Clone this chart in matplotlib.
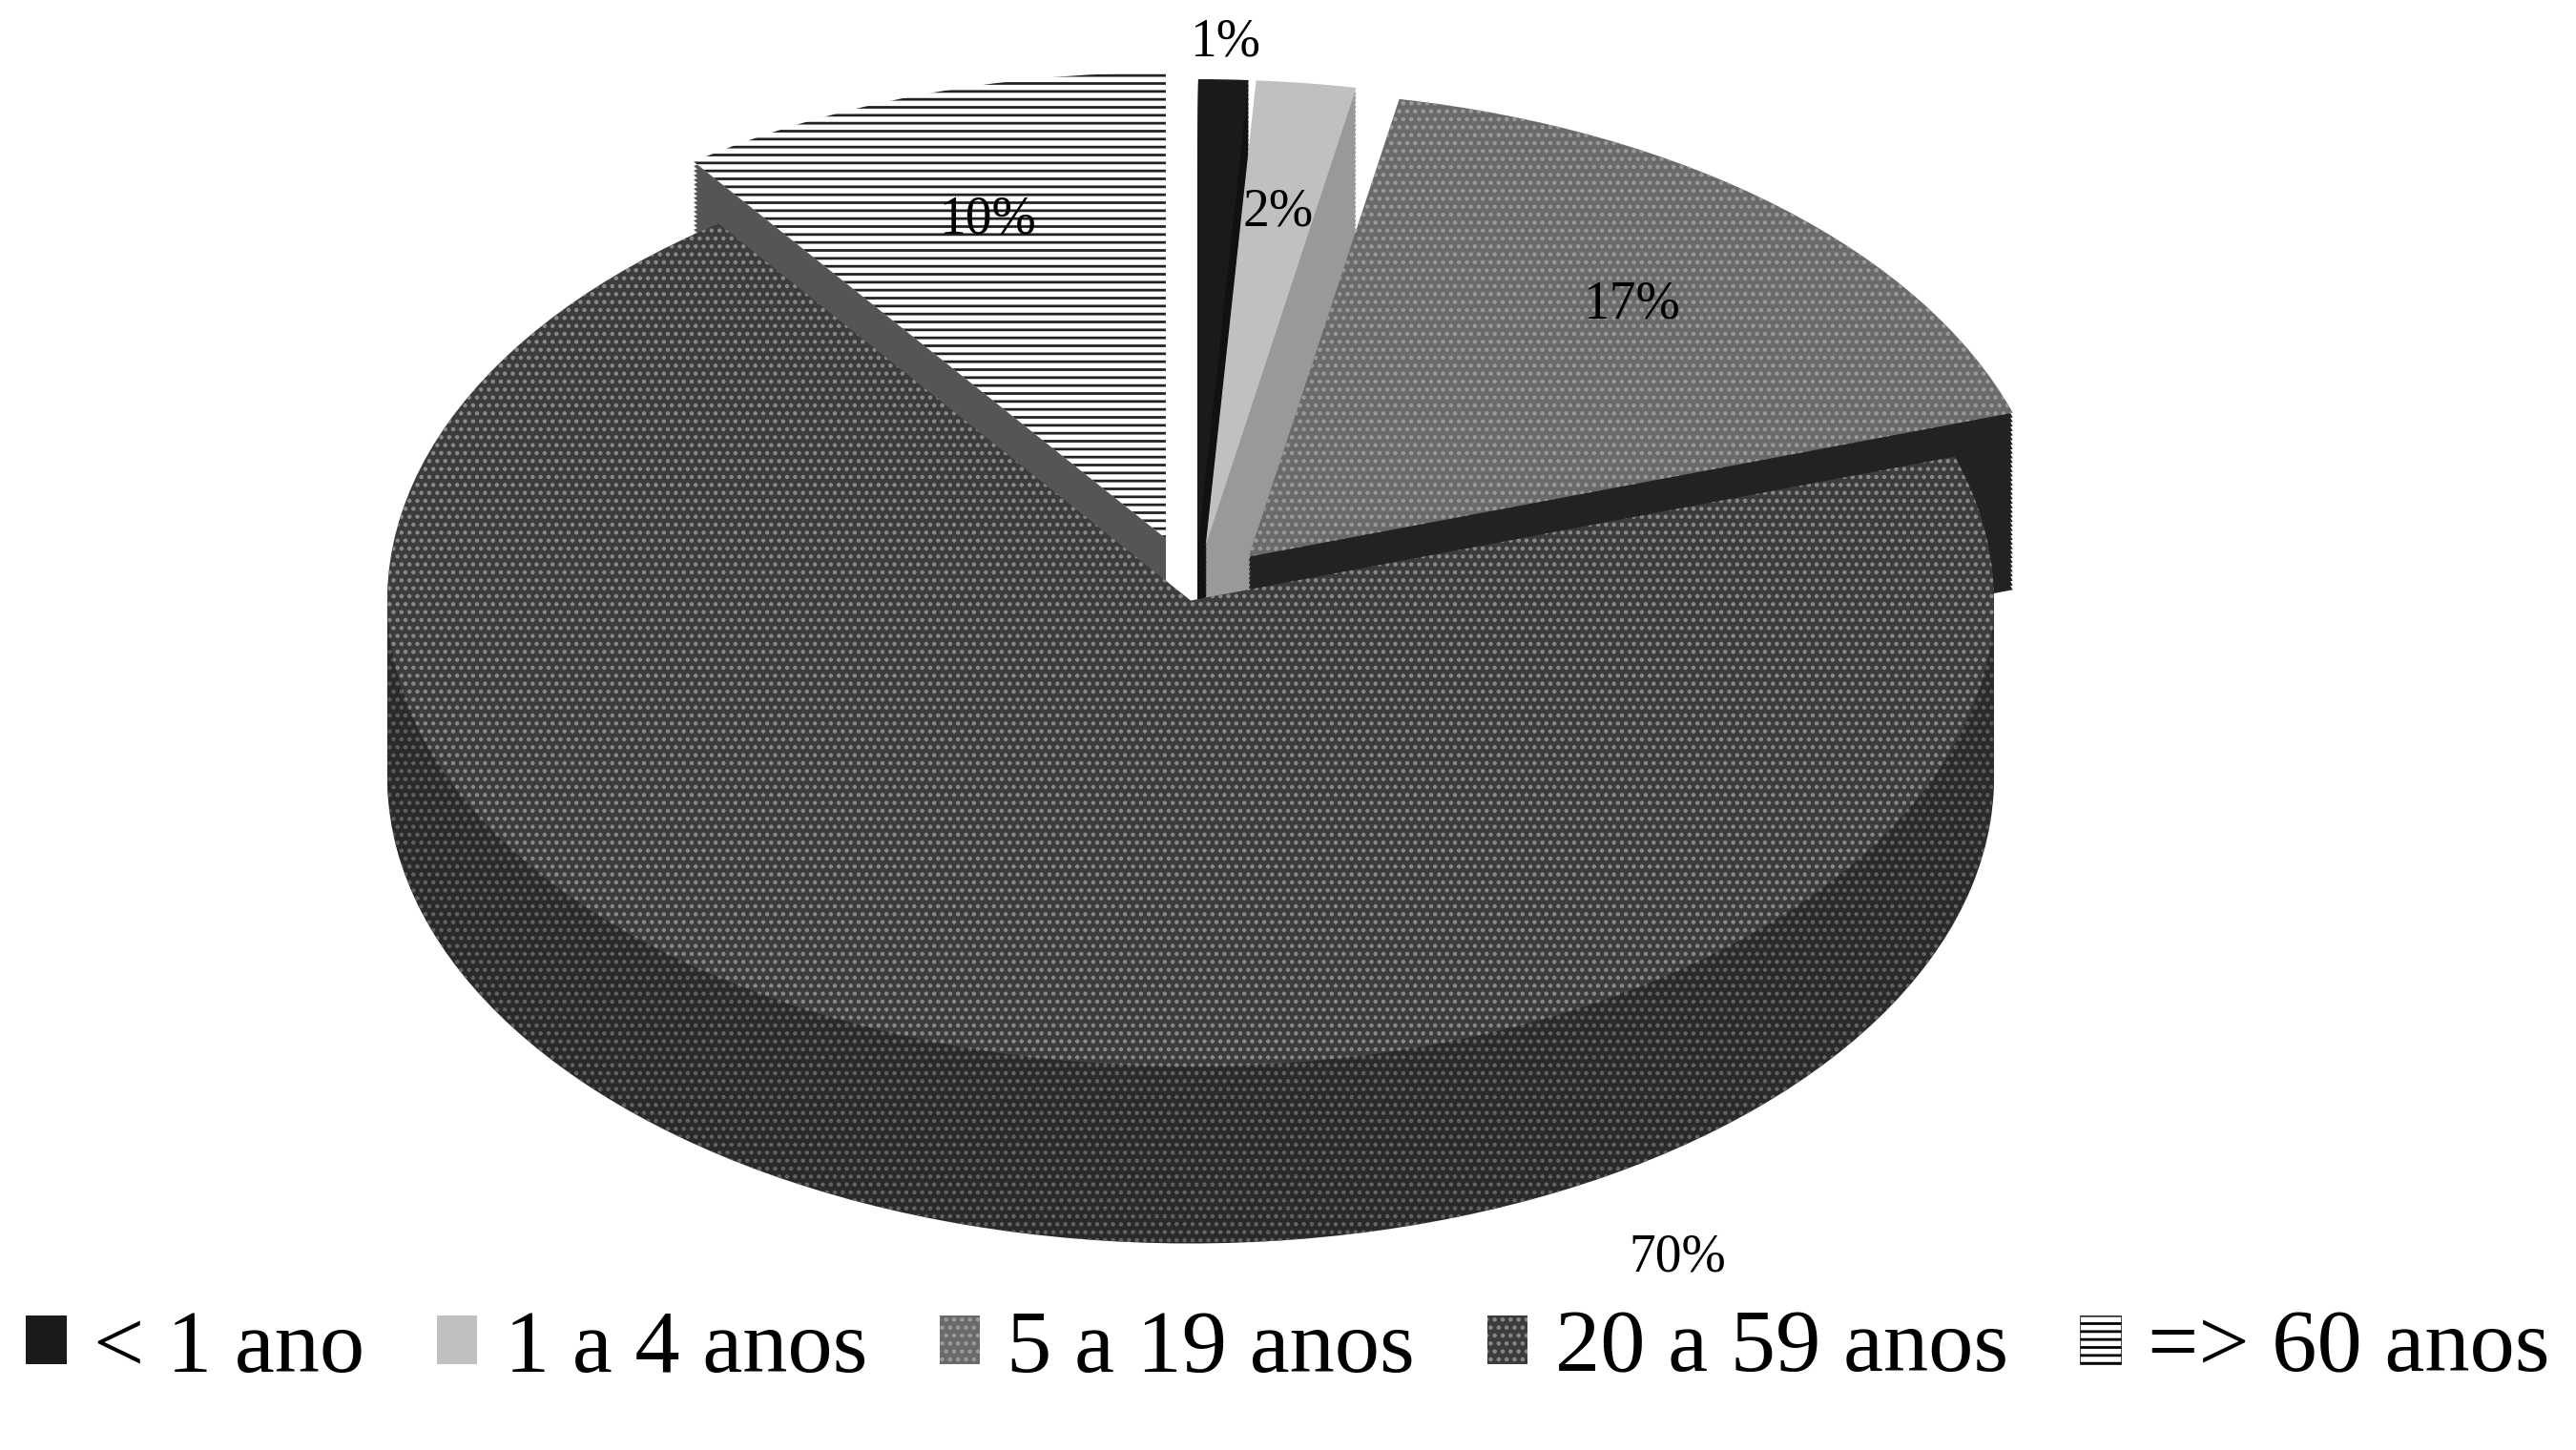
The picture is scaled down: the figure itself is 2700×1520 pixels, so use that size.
import numpy as np
import matplotlib.pyplot as plt
from matplotlib.patches import Patch

plt.rcParams['font.family'] = ['Liberation Serif', 'DejaVu Serif']
plt.rcParams['hatch.linewidth'] = 2.0

labels  = ['< 1 ano', '1 a 4 anos', '5 a 19 anos', '20 a 59 anos', '=> 60 anos']
values  = [1, 2, 17, 70, 10]
explode = [0.1, 0.1, 0.1, 0.02, 0.12]
colors  = ['#1a1a1a', '#c0c0c0', '#6a6a6a', '#3c3c3c', '#ffffff']
sides   = ['#111111', '#999999', '#222222', '#2a2a2a', '#555555']
hatches = [None, None, '..', '..', '--']
hcolors = ['#1a1a1a', '#c0c0c0', '#9a9a9a', '#8a8a8a', '#222222']

fig = plt.figure(figsize=(27, 15.2), dpi=100)
ax = fig.add_axes([0.0, 0.11, 1.0, 0.89])

depth = 0.38
nlay = 40
for i, dz in enumerate(np.linspace(-depth, 0, nlay)):
    top = i == nlay - 1
    w, _ = ax.pie(values, explode=explode, startangle=90, counterclock=False,
                  colors=colors if top else sides, center=(0, dz),
                  wedgeprops=dict(linewidth=0))
    for k, wd in enumerate(w):
        wd.set_zorder(i)
        if hatches[k] and (top or k == 3):
            wd.set_hatch(hatches[k])
            wd.set_edgecolor(hcolors[k] if top else '#666666')

# percent labels
total = sum(values)
ang = 90.0
lab_r = [1.08, 0.72, 0.72, 1.0, 0.72]
for k, v in enumerate(values):
    mid = np.deg2rad(ang - 360 * v / total / 2)
    ang -= 360 * v / total
    r = lab_r[k] + explode[k]
    x, y = r * np.cos(mid), r * np.sin(mid)
    if k == 3:
        x, y = 0.6, -1.05 - depth
    ax.text(x, y, f'{v}%', ha='center', va='center', fontsize=40, zorder=100)

ax.set_aspect(0.58)
ax.set_xlim(-1.32, 1.55)
ax.set_ylim(-1.5, 1.27)
ax.axis('off')

handles = [Patch(facecolor=colors[k], edgecolor='black' if k == 4 else hcolors[k],
                 hatch=hatches[k], linewidth=0.5 if k == 4 else 0) for k in range(5)]
fig.legend(handles, labels, loc='lower center', ncol=5, frameon=False,
           fontsize=68, handlelength=0.45, handleheight=0.45, columnspacing=0.8,
           handletextpad=0.3, bbox_to_anchor=(0.5, -0.015))

fig.savefig('out.png', dpi=100, facecolor='white')
